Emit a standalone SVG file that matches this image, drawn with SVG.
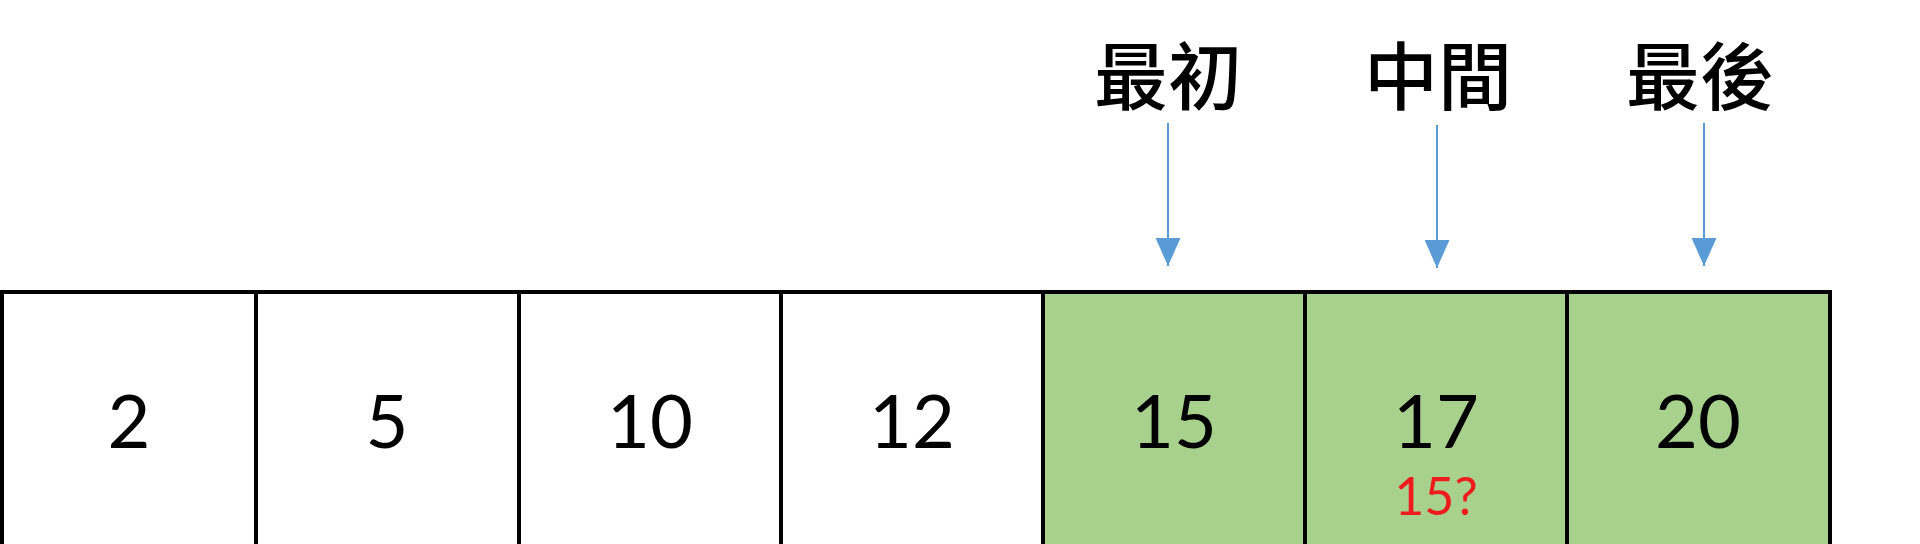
<svg xmlns="http://www.w3.org/2000/svg" width="1920" height="544" viewBox="0 0 1920 544">
<defs>
<style>
.cell{fill:#ffffff;stroke:#000000;stroke-width:4}
.hit{fill:#a9d18e;stroke:#000000;stroke-width:4}
.num{font-family:Lato,"Open Sans","Liberation Sans",sans-serif;font-size:74px;fill:#000000;text-anchor:middle}
.note{font-family:Lato,"Open Sans","Liberation Sans",sans-serif;font-size:52px;fill:#ee1c1c;text-anchor:middle}
.lbl{font-family:"Noto Sans CJK TC","Noto Sans CJK JP",sans-serif;font-size:74px;font-weight:500;fill:#000000;text-anchor:middle}
.arr{stroke:#5b9bd5;stroke-width:2;fill:none}
</style>
<marker id="ah" markerWidth="28" markerHeight="25" refX="28" refY="12.5" orient="auto" markerUnits="userSpaceOnUse" viewBox="0 0 28 25">
<path d="M0,0 L28,12.5 L0,25 Z" fill="#5b9bd5"/>
</marker>
</defs>
<rect width="1920" height="544" fill="#ffffff"/>
<g id="cell-0"><rect class="cell" x="2" y="292" width="254" height="270"/><text class="num" x="129" y="448">2</text></g>
<g id="cell-1"><rect class="cell" x="256" y="292" width="263" height="270"/><text class="num" x="387" y="448">5</text></g>
<g id="cell-2"><rect class="cell" x="519" y="292" width="262" height="270"/><text class="num" x="650" y="448">10</text></g>
<g id="cell-3"><rect class="cell" x="781" y="292" width="262" height="270"/><text class="num" x="912" y="448">12</text></g>
<g id="cell-4"><rect class="hit" x="1043" y="292" width="262" height="270"/><text class="num" x="1174" y="448">15</text></g>
<g id="cell-5"><rect class="hit" x="1305" y="292" width="262" height="270"/><text class="num" x="1436" y="448">17</text><text class="note" x="1436" y="515">15?</text></g>
<g id="cell-6"><rect class="hit" x="1567" y="292" width="263" height="270"/><text class="num" x="1698" y="448">20</text></g>
<g id="label-first"><text class="lbl" x="1168" y="104">最初</text></g>
<g id="label-mid"><text class="lbl" x="1438" y="104">中間</text></g>
<g id="label-last"><text class="lbl" x="1700" y="104">最後</text></g>
<g id="connectors">
<line class="arr" x1="1168" y1="123" x2="1168" y2="266" marker-end="url(#ah)"/>
<line class="arr" x1="1437" y1="125" x2="1437" y2="268" marker-end="url(#ah)"/>
<line class="arr" x1="1704" y1="123" x2="1704" y2="266" marker-end="url(#ah)"/>
</g>
</svg>
